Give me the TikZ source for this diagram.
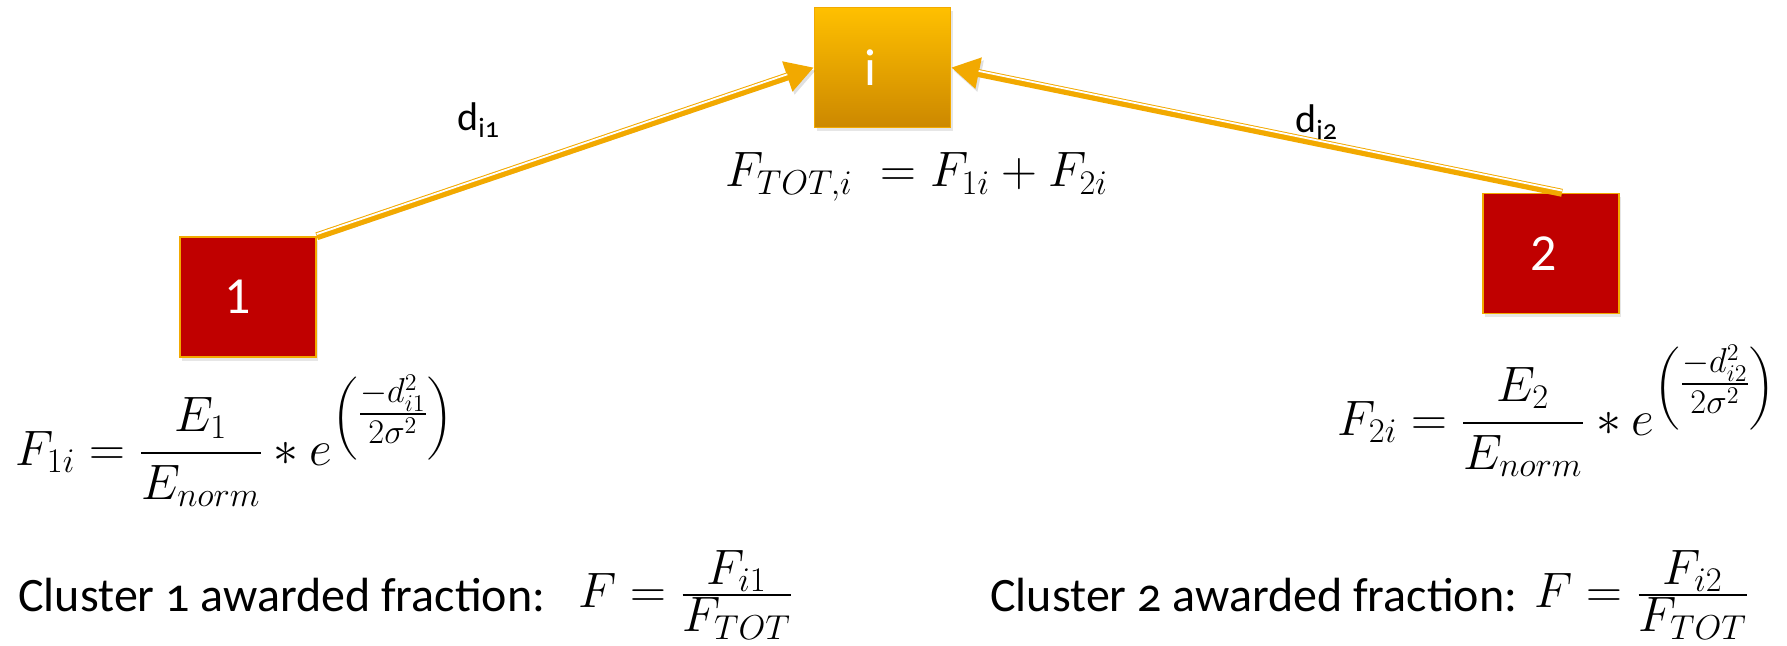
\documentclass[tikz,border=0pt]{standalone}
\usepackage{amsmath}
\usepackage{fontspec}
\setmainfont{Carlito}[Numbers=OldStyle]
\newfontfamily\boxfont{Carlito}
\usetikzlibrary{arrows.meta,positioning,shadows}
\definecolor{boxred}{HTML}{C00000}
\definecolor{amber}{HTML}{F2A900}
\definecolor{hubtop}{HTML}{FFC000}
\definecolor{hubbot}{HTML}{CC8800}

\begin{document}
\begin{tikzpicture}[x=0.5pt, y=-0.5pt,
  blk/.style={draw=amber, line width=0.7pt, minimum width=68pt, minimum height=60pt, inner sep=0pt, text=white, font=\boxfont\fontsize{26}{30}\selectfont, drop shadow={opacity=0.2, shadow xshift=1.2pt, shadow yshift=-1.8pt}},
  hub/.style={blk, top color=hubtop, bottom color=hubbot},
  src/.style={blk, fill=boxred},
  link/.style={draw=amber, line width=4pt, -{Triangle[length=14pt, width=15pt]}, preaction={draw=black, opacity=0.12, transform canvas={xshift=1pt, yshift=-1.5pt}}},
  gleam/.style={white, line width=0.9pt, shorten >=14pt},
  lbl/.style={inner sep=0pt, font=\fontsize{20}{24}\selectfont},
  eq/.style={inner sep=0pt, font=\fontsize{24.5}{29}\selectfont},
  txt/.style={inner sep=0pt, font=\fontsize{24}{29}\selectfont}]
\useasboundingbox (0,0) rectangle (1787,646);

% boxes
\node[hub] (ni) at (882.5,67.5) {i\kern12pt};
\node[src] (n1) at (248,297) {1\kern10pt};
\node[src] (n2) at (1551,253.5) {2\kern7pt};

% distances
\draw[link] (n1.north east) -- (ni.west);
\draw[gleam] ([yshift=1.1pt]n1.north east) -- ([yshift=1.1pt]ni.west);
\draw[link] ([xshift=5.5pt]n2.north) -- (ni.east);
\draw[gleam] ([xshift=5.5pt, yshift=1.1pt]n2.north) -- ([yshift=1.1pt]ni.east);
\node[lbl, anchor=base west] (d1) at (457,131) {d\textsubscript{i1}};
\node[lbl, anchor=base west] (d2) at (1295,133) {d\textsubscript{i2}};

% forces
\node[eq, anchor=base west, font=\fontsize{24}{29}\selectfont] (ftot) at (725,187) {$F_{TOT,i}\;= F_{1i} + F_{2i}$};
\node[eq, anchor=base west] (f1) at (15,465) {$F_{1i} = \dfrac{E_1}{E_{norm}} * e^{\left(\textstyle\frac{-d_{i1}^2}{2\sigma^2}\right)}$};
\node[eq, anchor=base west] (f2) at (1337,435) {$F_{2i} = \dfrac{E_2}{E_{norm}} * e^{\left(\textstyle\frac{-d_{i2}^2}{2\sigma^2}\right)}$};

% fractions
\node[txt, anchor=base west] (c1) at (18,611) {Cluster 1 awarded fraction:};
\node[eq, anchor=base west, font=\fontsize{23}{28}\selectfont] (q1) at (578,607) {$F = \frac{\textstyle F_{i1}}{\textstyle F_{TOT}}$};
\node[txt, anchor=base west] (c2) at (990,611) {Cluster 2 awarded fraction:};
\node[eq, anchor=base west, font=\fontsize{23}{28}\selectfont] (q2) at (1534,607) {$F = \frac{\textstyle F_{i2}}{\textstyle F_{TOT}}$};
\end{tikzpicture}
\end{document}
